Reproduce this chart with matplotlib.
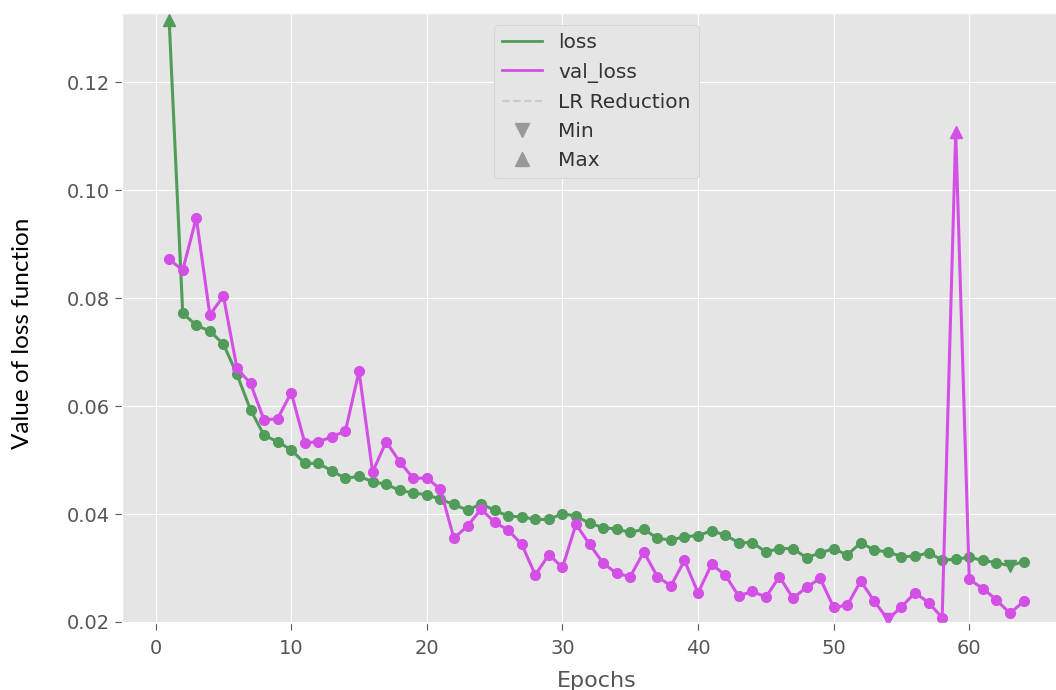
import numpy as np
import matplotlib
matplotlib.use("Agg")
import matplotlib.pyplot as plt
from matplotlib.lines import Line2D

plt.style.use("ggplot")

epochs = list(range(1, 65))

loss = [0.1315, 0.0772, 0.0750, 0.0739, 0.0715, 0.0659, 0.0593, 0.0546, 0.0534, 0.0519,
        0.0494, 0.0494, 0.0480, 0.0466, 0.0470, 0.0460, 0.0455, 0.0444, 0.0439, 0.0436,
        0.0427, 0.0418, 0.0407, 0.0419, 0.0407, 0.0396, 0.0395, 0.0390, 0.0390, 0.0401,
        0.0396, 0.0383, 0.0375, 0.0372, 0.0366, 0.0372, 0.0355, 0.0352, 0.0358, 0.0360,
        0.0369, 0.0361, 0.0347, 0.0347, 0.0330, 0.0336, 0.0336, 0.0319, 0.0328, 0.0336,
        0.0324, 0.0347, 0.0333, 0.0330, 0.0321, 0.0322, 0.0328, 0.0315, 0.0316, 0.0320,
        0.0314, 0.0310, 0.0304, 0.0312]

val_loss = [0.0872, 0.0852, 0.0949, 0.0769, 0.0804, 0.0670, 0.0642, 0.0574, 0.0577, 0.0625,
            0.0532, 0.0534, 0.0543, 0.0554, 0.0665, 0.0478, 0.0534, 0.0497, 0.0466, 0.0467,
            0.0446, 0.0355, 0.0378, 0.0409, 0.0385, 0.0370, 0.0344, 0.0287, 0.0325, 0.0301,
            0.0381, 0.0344, 0.0309, 0.0290, 0.0284, 0.0330, 0.0284, 0.0267, 0.0314, 0.0254,
            0.0307, 0.0287, 0.0248, 0.0257, 0.0246, 0.0284, 0.0244, 0.0264, 0.0281, 0.0227,
            0.0231, 0.0276, 0.0238, 0.0205, 0.0228, 0.0254, 0.0236, 0.0208, 0.1108, 0.0279,
            0.0262, 0.0241, 0.0216, 0.0238]

green = "#519c5a"
magenta = "#d44fe6"

fig = plt.figure(figsize=(10.56, 6.9), dpi=100)
ax = fig.add_axes([0.1155, 0.0978, 0.8987, 0.8829])

for series, col in [(loss, green), (val_loss, magenta)]:
    imin = int(np.argmin(series))
    imax = int(np.argmax(series))
    # circles everywhere except where the min / max triangles sit
    keep = [i for i in range(len(series)) if i not in (imin, imax)]
    ax.plot(epochs, series, color=col, lw=2.2, marker="o", ms=7, markevery=keep)
    ax.plot(epochs[imin], series[imin], marker="v", color=col, ms=9, ls="none")
    ax.plot(epochs[imax], series[imax], marker="^", color=col, ms=9, ls="none")

ax.set_xlim(-2.48, 67.5)
ax.set_ylim(0.0199, 0.1328)
ax.set_yticks([0.02, 0.04, 0.06, 0.08, 0.10, 0.12])
ax.set_xticks([0, 10, 20, 30, 40, 50, 60])
ax.tick_params(labelsize=14, colors="#555555", length=5)
ax.tick_params(axis="x", pad=7)
for t in ax.get_xticklabels() + ax.get_yticklabels():
    t.set_color("#555555")

ax.set_xlabel("Epochs", fontsize=16, color="#555555", labelpad=9)
ax.set_ylabel("Value of loss function", fontsize=17.5, color="black",
              family=["Lato", "DejaVu Sans"])
ax.yaxis.set_label_coords(-0.094, 0.475)

handles = [
    Line2D([], [], color=green, lw=2),
    Line2D([], [], color=magenta, lw=2),
    Line2D([], [], color="#cccccc", lw=1.5, ls="--"),
    Line2D([], [], color="#999999", marker="v", ms=10, ls="none"),
    Line2D([], [], color="#999999", marker="^", ms=10, ls="none"),
]
labels = ["loss", "val_loss", "LR Reduction", "Min", "Max"]
leg = ax.legend(handles, labels, loc="upper center", fontsize=14.5,
                frameon=True, facecolor="#e5e5e5", edgecolor="#d0d0d0",
                framealpha=1.0, borderaxespad=0.6)
for t in leg.get_texts():
    t.set_color("#333333")

fig.savefig("out.png", dpi=100)
